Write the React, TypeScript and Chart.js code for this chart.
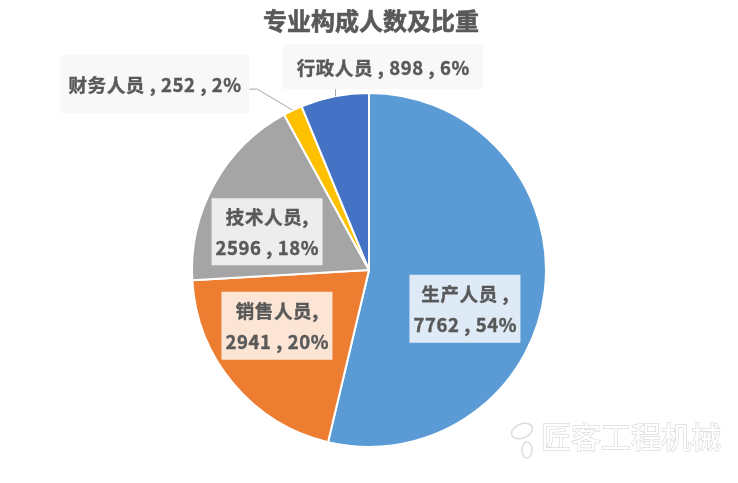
import React, { useEffect, useRef } from "react";
import { Chart, registerables } from "chart.js";

Chart.register(...registerables);

const titleText = "专业构成人数及比重";
const categories = ["生产人员", "销售人员", "技术人员", "财务人员", "行政人员"];
const values = [7762, 2941, 2596, 252, 898];
const colors = ["#5B9BD5", "#ED7D31", "#A5A5A5", "#FFC000", "#4472C4"];
const watermarkText = "匠客工程机械";

// label styling / placement (relative to pie centre, in units of radius)
const labelStyles = [
  { dx: 0.542, dy: 0.219, w: 111, h: 68, twoLine: true, sep: " ,", bg: "rgba(255,255,255,0.8)", leader: "none" },
  { dx: -0.52, dy: 0.315, w: 111, h: 68, twoLine: true, sep: ",", bg: "rgba(255,255,255,0.8)", leader: "none" },
  { dx: -0.576, dy: -0.216, w: 111, h: 67, twoLine: true, sep: ",", bg: "rgba(255,255,255,0.8)", leader: "none" },
  { dx: -1.21, dy: -1.05, w: 189, h: 58, twoLine: false, sep: " ,", bg: "#F8F8F8", leader: "elbow" },
  { dx: 0.079, dy: -1.149, w: 200, h: 45, twoLine: false, sep: " ,", bg: "#F8F8F8", leader: "vertical" },
];

const FONT = '"Noto Sans CJK SC", "Noto Sans", sans-serif';
const TEXT_COLOR = "#595959";
const LETTER_SPACING = 0.6;

const labelPlugin = {
  id: "customLabels",
  afterDraw(chart: any) {
    const ctx: any = chart.ctx;
    const meta = chart.getDatasetMeta(0);
    const total = values.reduce((a, b) => a + b, 0);

    // title
    ctx.save();
    ctx.fillStyle = TEXT_COLOR;
    ctx.strokeStyle = TEXT_COLOR;
    ctx.lineWidth = 0.6;
    ctx.font = `bold 24px ${FONT}`;
    ctx.textAlign = "center";
    ctx.textBaseline = "middle";
    ctx.fillText(titleText, chart.width / 2 + 2, 21);
    ctx.strokeText(titleText, chart.width / 2 + 2, 21);
    ctx.restore();

    meta.data.forEach((arc: any, i: number) => {
      const st = labelStyles[i];
      const { x, y, outerRadius, startAngle, endAngle } = arc.getProps(
        ["x", "y", "outerRadius", "startAngle", "endAngle"],
        true
      );
      const pct = Math.round((values[i] / total) * 100) + "%";
      const cx = x + st.dx * outerRadius;
      const cy = y + st.dy * outerRadius;
      const left = cx - st.w / 2;
      const top = cy - st.h / 2;

      // leader line
      const mid = (startAngle + endAngle) / 2;
      const ax = x + Math.cos(mid) * outerRadius;
      const ay = y + Math.sin(mid) * outerRadius;
      ctx.save();
      ctx.strokeStyle = "#A6A6A6";
      ctx.lineWidth = 1;
      if (st.leader === "elbow") {
        const ly = cy + 5;
        ctx.beginPath();
        ctx.moveTo(ax, ay);
        ctx.lineTo(left + st.w + 8, ly);
        ctx.lineTo(left + st.w, ly);
        ctx.stroke();
      } else if (st.leader === "vertical") {
        ctx.beginPath();
        ctx.moveTo(Math.round(ax) + 0.5, ay);
        ctx.lineTo(Math.round(ax) + 0.5, top + st.h);
        ctx.stroke();
      }
      ctx.restore();

      // box
      ctx.save();
      ctx.fillStyle = st.bg;
      ctx.fillRect(left, top, st.w, st.h);
      ctx.fillStyle = TEXT_COLOR;
      ctx.strokeStyle = TEXT_COLOR;
      ctx.lineWidth = 0.4;
      ctx.font = `bold 18.5px ${FONT}`;
      ctx.letterSpacing = `${LETTER_SPACING}px`;
      ctx.textAlign = "center";
      ctx.textBaseline = "middle";
      const drawLine = (t: string, px: number, py: number) => {
        const ox = px + LETTER_SPACING / 2;
        ctx.fillText(t, ox, py);
        ctx.strokeText(t, ox, py);
      };
      if (st.twoLine) {
        drawLine(categories[i] + st.sep, cx, cy - 14.5);
        drawLine(`${values[i]} , ${pct}`, cx, cy + 16.5);
      } else {
        drawLine(`${categories[i]}${st.sep} ${values[i]} , ${pct}`, cx, cy + 1);
      }
      ctx.restore();
    });

    // watermark
    ctx.save();
    ctx.font = `30px ${FONT}`;
    ctx.textAlign = "left";
    ctx.textBaseline = "middle";
    ctx.fillStyle = "#FFFFFF";
    ctx.strokeStyle = "#DDDDDD";
    ctx.lineWidth = 1.5;
    ctx.strokeText(watermarkText, 541, 437);
    ctx.fillText(watermarkText, 541, 437);
    // simple logo outline
    ctx.beginPath();
    ctx.ellipse(522, 431, 11, 7, -0.4, 0, Math.PI * 2);
    ctx.stroke();
    ctx.beginPath();
    ctx.ellipse(527, 450, 5, 8, 0, 0, Math.PI * 2);
    ctx.stroke();
    ctx.restore();
  },
};

export default function App() {
  const ref = useRef<HTMLCanvasElement | null>(null);
  useEffect(() => {
    document.body.style.margin = "0";
    if (!ref.current) return;
    const chart = new Chart(ref.current, {
      type: "pie",
      data: {
        labels: categories,
        datasets: [
          {
            data: values,
            backgroundColor: colors,
            borderColor: "#FFFFFF",
            borderWidth: 2,
          },
        ],
      },
      options: {
        responsive: false,
        animation: false,
        layout: { padding: { left: 191, right: 191, top: 91, bottom: 34 } },
        plugins: {
          legend: { display: false },
          tooltip: { enabled: false },
          title: { display: false },
        },
      },
      plugins: [labelPlugin],
    });
    return () => chart.destroy();
  }, []);
  return (
    <div style={{ position: "absolute", left: 0, top: 0, width: 738, height: 483, background: "#fff" }}>
      <canvas ref={ref} width={738} height={483} style={{ width: 738, height: 483 }} />
    </div>
  );
}
